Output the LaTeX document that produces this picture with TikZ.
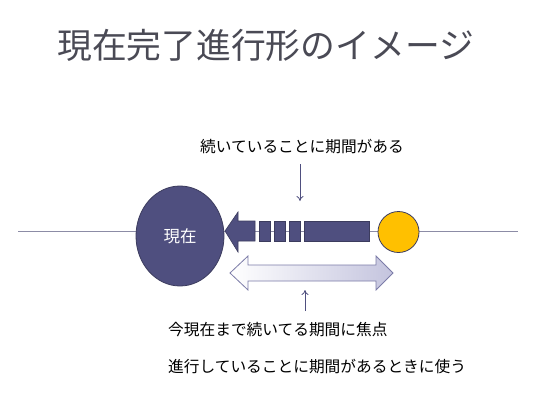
\documentclass[tikz,border=0pt]{standalone}
\usepackage{fontspec}
\setmainfont{Noto Sans CJK JP}
\newfontfamily\jpfont{Noto Sans CJK JP}
\usetikzlibrary{arrows.meta,shapes.geometric}
\definecolor{navy}{HTML}{4F4F7F}
\definecolor{navyline}{HTML}{3C3C5E}
\definecolor{titlegray}{HTML}{4A4A55}
\definecolor{gold}{HTML}{FFC000}
\definecolor{lav}{HTML}{C4C4DE}
\definecolor{lavline}{HTML}{7C7CA8}
\definecolor{axis}{HTML}{8C8CA6}
\tikzset{
  lbl/.style={font=\jpfont\fontsize{15.7}{18}\selectfont, text=black, inner sep=0pt, anchor=west},
  pointer/.style={draw=navy, line width=0.8pt, -{To[length=5pt,width=7pt]}},
}
\begin{document}
\begin{tikzpicture}[x=1pt,y=-1pt]
\useasboundingbox (0,0) rectangle (560,400);
\fill[white] (0,0) rectangle (560,400);
% title
\node[font=\jpfont\fontsize{34.8}{40}\selectfont, text=titlegray, inner sep=0pt, anchor=west] (title) at (57,45) {現在完了進行形のイメージ};
% axis
\coordinate (axl) at (18,231);
\coordinate (axr) at (518,231);
\draw[axis, line width=0.8pt] (axl) -- (axr);
% big circle
\node[ellipse, fill=navy, draw=navyline, line width=0.8pt, minimum width=88pt, minimum height=100pt, inner sep=0pt,
      font=\jpfont\fontsize{16.5}{18}\selectfont, text=white] (now) at (180,236) {現在};
% arrow pointing to now
\filldraw[fill=navy, draw=navyline, line width=0.6pt]
  (225,231) -- (238,212) -- (238,221) -- (255,221) -- (255,241) -- (238,241) -- (238,252) -- cycle;
\filldraw[fill=navy, draw=navyline, line width=0.6pt] (259,221) rectangle (270,241);
\filldraw[fill=navy, draw=navyline, line width=0.6pt] (274,221) rectangle (285,241);
\filldraw[fill=navy, draw=navyline, line width=0.6pt] (289,221) rectangle (300,241);
\filldraw[fill=navy, draw=navyline, line width=0.6pt] (304,221) rectangle (369,241);
% yellow circle
\node[circle, fill=gold, draw=navyline, line width=0.8pt, minimum size=41pt, inner sep=0pt] (past) at (398.5,232) {};
% double arrow
\shade[left color=white, right color=lav, draw=lavline, line width=0.8pt]
  (230,273) -- (248,256) -- (248,265) -- (376,265) -- (376,256) -- (393,273) -- (376,290) -- (376,281) -- (248,281) -- (248,290) -- cycle;
% labels
\node[lbl, anchor=center] (top) at (302,147) {続いていることに期間がある};
\node[lbl] (b1) at (168,330) {今現在まで続いてる期間に焦点};
\node[lbl] (b2) at (168,367) {進行していることに期間があるときに使う};
% pointers
\coordinate (p1s) at (300,164);
\coordinate (p1e) at (300,201);
\draw[pointer] (p1s) -- (p1e);
\coordinate (p2s) at (305,311);
\coordinate (p2e) at (305,290);
\draw[pointer] (p2s) -- (p2e);
\end{tikzpicture}
\end{document}
